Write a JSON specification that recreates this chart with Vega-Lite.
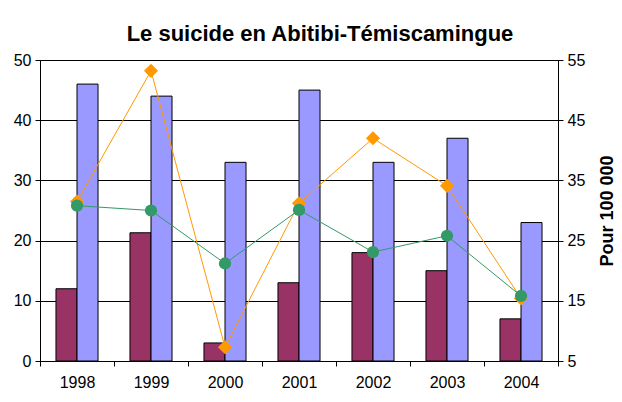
{
  "$schema": "https://vega.github.io/schema/vega-lite/v6.json",
  "width": 518,
  "height": 301,
  "autosize": {"type": "none"},
  "padding": {"left": 40, "top": 60, "right": 64, "bottom": 41},
  "background": "white",
  "title": {"text": "Le suicide en Abitibi-Témiscamingue", "font": "Liberation Sans", "fontSize": 22, "fontWeight": "bold", "color": "black", "anchor": "middle", "dx": 21, "offset": 6},
  "config": {
    "view": {"stroke": "black", "strokeWidth": 1},
    "axis": {"labelFont": "Liberation Sans", "labelFontSize": 16, "labelColor": "black", "domainColor": "black", "tickColor": "black", "titleFont": "Liberation Sans", "titleColor": "black"}
  },
  "datasets": {
    "bars": [
      {"year": "1998", "series": "Série 1", "value": 12},
      {"year": "1998", "series": "Série 2", "value": 46},
      {"year": "1999", "series": "Série 1", "value": 21.3},
      {"year": "1999", "series": "Série 2", "value": 44},
      {"year": "2000", "series": "Série 1", "value": 3},
      {"year": "2000", "series": "Série 2", "value": 33},
      {"year": "2001", "series": "Série 1", "value": 13},
      {"year": "2001", "series": "Série 2", "value": 45},
      {"year": "2002", "series": "Série 1", "value": 18},
      {"year": "2002", "series": "Série 2", "value": 33},
      {"year": "2003", "series": "Série 1", "value": 15},
      {"year": "2003", "series": "Série 2", "value": 37},
      {"year": "2004", "series": "Série 1", "value": 7},
      {"year": "2004", "series": "Série 2", "value": 23}
    ],
    "lines": [
      {"year": "1998", "series": "Série 3", "value": 31.5},
      {"year": "1999", "series": "Série 3", "value": 53.2},
      {"year": "2000", "series": "Série 3", "value": 7.3},
      {"year": "2001", "series": "Série 3", "value": 31.2},
      {"year": "2002", "series": "Série 3", "value": 42.0},
      {"year": "2003", "series": "Série 3", "value": 34.1},
      {"year": "2004", "series": "Série 3", "value": 15.4},
      {"year": "1998", "series": "Série 4", "value": 30.8},
      {"year": "1999", "series": "Série 4", "value": 30.0},
      {"year": "2000", "series": "Série 4", "value": 21.2},
      {"year": "2001", "series": "Série 4", "value": 30.1},
      {"year": "2002", "series": "Série 4", "value": 23.1},
      {"year": "2003", "series": "Série 4", "value": 25.8},
      {"year": "2004", "series": "Série 4", "value": 15.8}
    ]
  },
  "layer": [
    {
      "data": {"name": "bars"},
      "mark": {"type": "bar", "stroke": "black", "strokeWidth": 1},
      "encoding": {
        "x": {"field": "year", "type": "nominal", "scale": {"paddingInner": 0, "paddingOuter": 0}, "axis": {"title": null, "labelAngle": 0, "tickBand": "extent", "tickSize": 5, "labelPadding": 8}},
        "xOffset": {"field": "series", "type": "nominal", "scale": {"paddingInner": 0, "paddingOuter": 0.76}},
        "y": {"field": "value", "type": "quantitative", "scale": {"domain": [0, 50], "nice": false}, "axis": {"title": null, "values": [0, 10, 20, 30, 40, 50], "grid": true, "gridColor": "black", "gridOpacity": 1, "tickSize": 5, "labelPadding": 4}},
        "color": {"field": "series", "type": "nominal", "scale": {"domain": ["Série 1", "Série 2"], "range": ["#993366", "#9999FF"]}, "legend": null}
      }
    },
    {
      "data": {"name": "lines"},
      "encoding": {
        "x": {"field": "year", "type": "nominal"},
        "y": {"field": "value", "type": "quantitative", "scale": {"domain": [5, 55], "nice": false}, "axis": {"orient": "right", "title": "Pour 100 000", "titleFontSize": 18, "titleFontWeight": "bold", "titleAngle": 270, "titleBaseline": "bottom", "titlePadding": 32, "values": [5, 15, 25, 35, 45, 55], "grid": false, "tickSize": 5, "labelPadding": 4}},
        "color": {"field": "series", "type": "nominal", "scale": {"domain": ["Série 3", "Série 4"], "range": ["#FF9900", "#339966"]}, "legend": null}
      },
      "layer": [
        {"mark": {"type": "line", "strokeWidth": 1}},
        {"mark": {"type": "point", "filled": true, "opacity": 1}, "encoding": {
          "shape": {"field": "series", "type": "nominal", "scale": {"domain": ["Série 3", "Série 4"], "range": ["diamond", "circle"]}, "legend": null},
          "size": {"field": "series", "type": "nominal", "scale": {"domain": ["Série 3", "Série 4"], "range": [200, 150]}, "legend": null}
        }}
      ]
    }
  ],
  "resolve": {"scale": {"y": "independent", "color": "independent"}}
}
